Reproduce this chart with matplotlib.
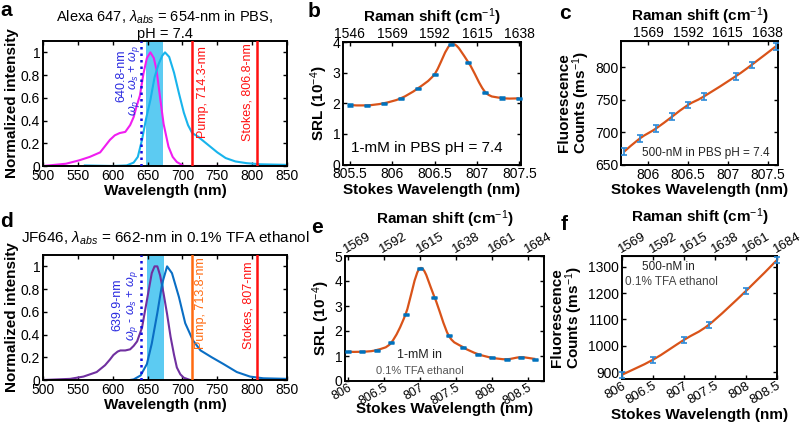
"""Spectra and SRL / fluorescence panels, 2x3 layout."""

import matplotlib
matplotlib.use("Agg")
import matplotlib.pyplot as plt
import numpy as np
from matplotlib.path import Path
from matplotlib.patches import PathPatch

plt.rcParams["font.family"] = ["Liberation Sans Narrow", "Liberation Sans", "DejaVu Sans"]
plt.rcParams["mathtext.fontset"] = "custom"
plt.rcParams["mathtext.rm"] = "Liberation Sans"
plt.rcParams["mathtext.it"] = "Liberation Sans:italic"
plt.rcParams["mathtext.bf"] = "Liberation Sans:bold"

# ---- panel a: Alexa 647 spectra ----
a_abs_wl = [500, 533, 552, 567, 582, 596, 603, 610, 618, 625, 630, 634, 639, 644, 649, 654,
            659, 663, 668, 673, 680, 686, 692, 702, 720, 850]
a_abs = [0.0, 0.02, 0.05, 0.08, 0.12, 0.23, 0.27, 0.29, 0.30, 0.36, 0.43, 0.52, 0.62, 0.81, 0.95, 1.0,
         0.95, 0.84, 0.60, 0.37, 0.17, 0.08, 0.035, 0.0, 0.0, 0.0]
a_em_wl = [560, 600, 620, 630, 636, 642, 648, 654, 660, 666, 671, 675, 681, 688, 695, 702, 708,
           714, 722, 730, 740, 750, 762, 776, 792, 812, 850]
a_em = [0.005, 0.0, 0.005, 0.03, 0.08, 0.23, 0.42, 0.58, 0.78, 0.9, 0.97, 1.0, 0.96, 0.82, 0.64,
        0.47, 0.36, 0.29, 0.26, 0.22, 0.17, 0.12, 0.07, 0.04, 0.025, 0.015, 0.01]
a_band = (648, 672)
a_anti = 640.8
a_pump = 714.3
a_stokes = 806.8

# ---- panel d: JF646 spectra ----
d_abs_wl = [500, 539, 558, 577, 589, 596, 601, 607, 611, 618, 625, 630, 635, 642, 649, 656,
            660, 664, 668, 673, 678, 683, 688, 692, 697, 702, 711, 720]
d_abs = [0.0, 0.01, 0.03, 0.07, 0.13, 0.18, 0.22, 0.25, 0.26, 0.26, 0.27, 0.30, 0.34, 0.46, 0.70, 0.94,
         1.0, 1.0, 0.92, 0.76, 0.58, 0.38, 0.22, 0.11, 0.05, 0.02, 0.0, 0.0]
d_em_wl = [625, 630, 640, 649, 656, 664, 671, 678, 685, 695, 704, 715, 726, 742, 759, 778, 797,
           816, 850]
d_em = [0.0, 0.005, 0.04, 0.14, 0.32, 0.59, 0.85, 1.0, 0.94, 0.73, 0.50, 0.35, 0.26, 0.20, 0.14,
        0.07, 0.03, 0.015, 0.01]
d_band = (649, 674)
d_anti = 639.9
d_pump = 713.8
d_stokes = 807.0

# ---- panel b: SRL, Alexa 647 ----
b_wl = [805.5, 805.7, 805.9, 806.1, 806.3, 806.5, 806.7, 806.9, 807.1, 807.3, 807.5]
b_srl = [1.94, 1.93, 2.0, 2.16, 2.48, 2.95, 3.93, 3.33, 2.36, 2.17, 2.16]

# ---- panel c: fluorescence, Alexa 647 ----
c_wl = [805.7, 805.9, 806.1, 806.3, 806.5, 806.7, 807.1, 807.3, 807.6]
c_counts = [670.5, 691, 706, 724, 742, 755, 786, 803.5, 831.5]
c_err = [5, 5, 5, 5, 5, 5, 5, 5, 5]

# ---- panel e: SRL, JF646 ----
e_wl = [806.0, 806.2, 806.4, 806.6, 806.8, 807.0, 807.2, 807.4, 807.6, 807.8, 808.0, 808.2,
        808.4, 808.6]
e_srl = [1.17, 1.17, 1.24, 1.53, 2.67, 4.51, 3.36, 1.81, 1.35, 1.08, 0.93, 0.87, 0.95, 0.88]

# ---- panel f: fluorescence, JF646 ----
f_wl = [806.0, 806.5, 807.0, 807.4, 808.0, 808.5]
f_counts = [891, 948, 1023, 1080, 1208, 1325]
f_err = [12, 12, 12, 12, 12, 12]

b_ticks = [805.5, 806, 806.5, 807, 807.5]
b_top = [1546, 1569, 1592, 1615, 1638]
c_ticks = [806, 806.5, 807, 807.5]
c_top = [1569, 1592, 1615, 1638]
ef_ticks = [806, 806.5, 807, 807.5, 808, 808.5]
ef_top = [1569, 1592, 1615, 1638, 1661, 1684]

FIT = "#D95319"
DOT = "#0072BD"
ERR = "#2b8ad8"
W, H = 800, 425
RAMAN = "Raman shift (cm$^{-1}$)"


def box(l, t, r, b):
    return [l / W, 1 - b / H, (r - l) / W, (b - t) / H]


def to_shift(w):
    return 1546 + 46 * (np.asarray(w) - 805.5)


def to_wl(s):
    return 805.5 + (np.asarray(s) - 1546) / 46


def smooth(ax, x, y, color=FIT, lw=1.6):
    # Catmull-Rom through the points, drawn as cubic Bezier segments
    x = np.asarray(x, float)
    y = np.asarray(y, float)
    verts = [(x[0], y[0])]
    codes = [Path.MOVETO]
    n = len(x)
    for i in range(n - 1):
        p0 = max(i - 1, 0)
        p3 = min(i + 2, n - 1)
        c1 = (x[i] + (x[i + 1] - x[p0]) / 6, y[i] + (y[i + 1] - y[p0]) / 6)
        c2 = (x[i + 1] - (x[p3] - x[i]) / 6, y[i + 1] - (y[p3] - y[i]) / 6)
        verts += [c1, c2, (x[i + 1], y[i + 1])]
        codes += [Path.CURVE4] * 3
    ax.add_patch(PathPatch(Path(verts, codes), fill=False, edgecolor=color, lw=lw, zorder=2))


def style(ax):
    for s in ax.spines.values():
        s.set_linewidth(1.4)
    ax.tick_params(direction="in", labelsize=10, length=3, width=1, pad=2, right=True)


def raman_axis(ax, wl_ticks, top_ticks, rotate=False, top_y=None, bot_y=None, bot_size=9.5):
    ax.set_xticks(wl_ticks)
    ax.set_xticklabels([f"{t:g}" for t in wl_ticks])
    sec = ax.secondary_xaxis("top", functions=(to_shift, to_wl))
    sec.set_xticks(top_ticks)
    sec.tick_params(direction="in", labelsize=10, length=3, width=1, pad=1)
    ax.set_xlabel("Stokes Wavelength (nm)", fontsize=11, fontweight="bold", labelpad=1)
    if top_y is None:
        sec.set_xlabel(RAMAN, fontsize=11, fontweight="bold", labelpad=3)
    else:
        ax.text(0.5, top_y, RAMAN, transform=ax.transAxes, fontsize=11, fontweight="bold",
                ha="center", va="bottom")
    if rotate:
        ax.tick_params(axis="x", labelsize=bot_size, pad=0.5)
        sec.tick_params(labelsize=9.5, pad=0)
        for lab in ax.get_xticklabels():
            lab.set_rotation(30)
            lab.set_ha("right")
            lab.set_rotation_mode("anchor")
        for lab in sec.get_xticklabels():
            lab.set_rotation(30)
            lab.set_ha("left")
            lab.set_rotation_mode("anchor")
    if bot_y is not None:
        ax.xaxis.set_label_coords(0.5, bot_y)


def spectra(ax, abs_wl, abs_y, em_wl, em_y, c_abs, c_em, band, anti, pump, stokes, pump_c, labels):
    ax.axvspan(band[0], band[1], color="#5ccbf2", lw=0, zorder=0)
    ax.plot(abs_wl, abs_y, color=c_abs, lw=1.5, zorder=2)
    ax.plot(em_wl, em_y, color=c_em, lw=1.5, zorder=2)
    ax.axvline(anti, color="#1010e0", lw=1.8, ls=(0, (1, 1.6)), zorder=3)
    ax.axvline(pump, color=pump_c, lw=1.8, zorder=3)
    ax.axvline(stokes, color="#ff1010", lw=1.8, zorder=3)
    ax.set_xlim(500, 850)
    ax.set_ylim(0, 1.1)
    ax.set_xticks(range(500, 851, 50))
    ax.set_yticks([0, 0.2, 0.4, 0.6, 0.8, 1])
    ax.set_yticklabels(["0", "0.2", "0.4", "0.6", "0.8", "1"])
    ax.tick_params(top=True)
    ax.set_xlabel("Wavelength (nm)", fontsize=11, fontweight="bold", labelpad=1)
    ax.set_ylabel("Normalized intensity", fontsize=11, fontweight="bold", labelpad=1)
    (t1, x1, y1), (t2, x2, y2), (t3, x3, y3), (t4, x4, y4) = labels
    ax.text(x1, y1, t1, rotation=90, color="#2a2ae0", fontsize=9, ha="center", va="center")
    ax.text(x2, y2, t2, rotation=90, color="#2a2ae0", fontsize=9, ha="center", va="center")
    ax.text(x3, y3, t3, rotation=90, color=pump_c, fontsize=9, ha="center", va="center")
    ax.text(x4, y4, t4, rotation=90, color="#ff1010", fontsize=9, ha="center", va="center")


fig = plt.figure(figsize=(8, 4.25), dpi=100)
omega = r"$\omega_p$ - $\omega_s$ + $\omega_p$"

# a
ax = fig.add_axes(box(43, 41, 287, 166))
style(ax)
spectra(ax, a_abs_wl, a_abs, a_em_wl, a_em, "#f01ef0", "#18b4ec", a_band, a_anti, a_pump, a_stokes,
        "#ff1010",
        [("640.8-nm", 613, 0.79), (omega, 631, 0.75),
         ("Pump, 714.3-nm", 729, 0.65), ("Stokes, 806.8-nm", 794, 0.65)])
ax.set_title("Alexa 647, $\\lambda_{abs}$ = 654-nm in PBS,\npH = 7.4", fontsize=10.5, pad=2,
             linespacing=1.1)

# d
ax = fig.add_axes(box(43, 255, 287, 380))
style(ax)
spectra(ax, d_abs_wl, d_abs, d_em_wl, d_em, "#7030a0", "#0a6ec4", d_band, d_anti, d_pump, d_stokes,
        "#ff6a10",
        [("639.9-nm", 607, 0.66), (omega, 628, 0.66),
         ("Pump, 713.8-nm", 727, 0.68), ("Stokes, 807-nm", 795, 0.66)])
ax.set_title("JF646, $\\lambda_{abs}$ = 662-nm in 0.1% TFA ethanol", fontsize=11, pad=9)

# b
ax = fig.add_axes(box(343, 42, 521, 164.5))
style(ax)
smooth(ax, b_wl, b_srl)
ax.errorbar(b_wl, b_srl, yerr=0.02, fmt="none", ecolor=DOT, capsize=2, elinewidth=1.5,
            capthick=1.8, zorder=3, clip_on=False)
ax.set_xlim(805.42, 807.52)
ax.set_ylim(0, 4)
ax.set_yticks([0, 1, 2, 3, 4])
ax.set_ylabel("SRL (10$^{-4}$)", fontsize=11, fontweight="bold", labelpad=2)
raman_axis(ax, b_ticks, b_top)
ax.text(805.52, 0.55, "1-mM in PBS pH = 7.4", fontsize=11, va="center")

# c
ax = fig.add_axes(box(621, 41, 778, 165))
style(ax)
smooth(ax, c_wl, c_counts)
ax.errorbar(c_wl, c_counts, yerr=c_err, fmt="none", ecolor=ERR, capsize=2, elinewidth=1.2,
            capthick=1.2, zorder=3, clip_on=False)
ax.set_xlim(805.66, 807.63)
ax.set_ylim(650, 840)
ax.set_yticks([650, 700, 750, 800])
ax.set_ylabel("Fluorescence\nCounts (ms$^{-1}$)", fontsize=11, fontweight="bold", labelpad=2,
              linespacing=1.0)
raman_axis(ax, c_ticks, c_top)
ax.text(807.52, 669, "500-nM in PBS pH = 7.4", fontsize=8.5, ha="right", va="center", color="#222222")

# e
ax = fig.add_axes(box(345, 256, 544, 381))
style(ax)
smooth(ax, e_wl, e_srl)
ax.errorbar(e_wl, e_srl, yerr=0.02, fmt="none", ecolor=DOT, capsize=2, elinewidth=1.5,
            capthick=1.8, zorder=3, clip_on=False)
ax.set_xlim(805.96, 808.72)
ax.set_ylim(0, 5)
ax.set_yticks([0, 1, 2, 3, 4, 5])
ax.set_ylabel("SRL (10$^{-4}$)", fontsize=11, fontweight="bold", labelpad=2)
raman_axis(ax, ef_ticks, ef_top, rotate=True, top_y=1.21, bot_y=-0.17, bot_size=9)
ax.text(807.0, 1.05, "1-mM in", fontsize=9, ha="center", va="center", color="#222222")
ax.text(807.0, 0.38, "0.1% TFA ethanol", fontsize=8, ha="center", va="center", color="#555555")

# f
ax = fig.add_axes(box(622, 256, 777, 379))
style(ax)
smooth(ax, f_wl, f_counts)
ax.errorbar(f_wl, f_counts, yerr=f_err, fmt="none", ecolor=ERR, capsize=2, elinewidth=1.2,
            capthick=1.2, zorder=3, clip_on=False)
ax.set_xlim(806, 808.5)
ax.set_ylim(875, 1340)
ax.set_yticks([900, 1000, 1100, 1200, 1300])
ax.set_ylabel("Fluorescence\nCounts (ms$^{-1}$)", fontsize=11, fontweight="bold", labelpad=2,
              linespacing=1.0)
raman_axis(ax, ef_ticks, ef_top, rotate=True, top_y=1.23, bot_y=-0.235)
ax.text(806.75, 1300, "500-nM in", fontsize=8.5, ha="center", va="center", color="#222222")
ax.text(806.8, 1240, "0.1% TFA ethanol", fontsize=8.5, ha="center", va="center", color="#444444")

for letter, x, y in [("a", 0, 1), ("b", 308, 2), ("c", 559, 4), ("d", 0, 212), ("e", 311, 218),
                     ("f", 561, 215)]:
    fig.text(x / W, 1 - y / H, letter, fontsize=15, fontweight="bold", ha="left", va="top")

fig.savefig("out.png", dpi=100)
